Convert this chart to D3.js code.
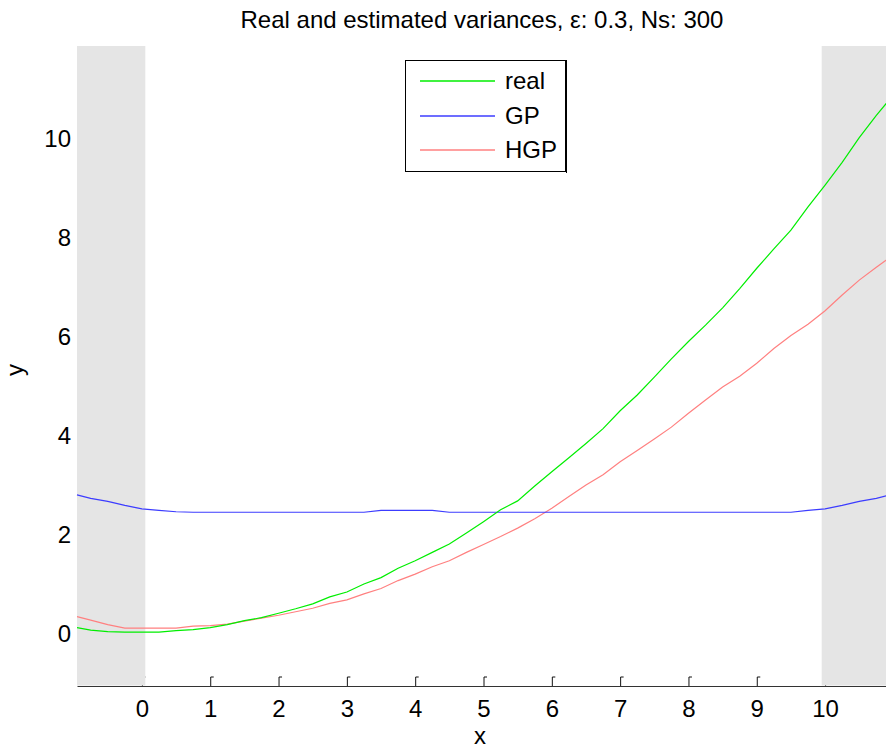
<!DOCTYPE html>
<html>
<head>
<meta charset="utf-8">
<script src="https://cdn.jsdelivr.net/npm/d3@7"></script>
<style>
  html, body { margin: 0; padding: 0; background: #fff; }
  svg { display: block; font-family: "Liberation Sans", Arial, sans-serif; }
</style>
</head>
<body>
<svg id="chart" width="886" height="750"></svg>
<script>
// ---- data ----
const xs = [-0.95, -0.75, -0.5, -0.25, 0, 0.25, 0.5, 0.75, 1, 1.25, 1.5, 1.75, 2, 2.25, 2.5, 2.75,
  3, 3.25, 3.5, 3.75, 4, 4.25, 4.5, 4.75, 5, 5.25, 5.5, 5.75, 6, 6.25, 6.5, 6.75,
  7, 7.25, 7.5, 7.75, 8, 8.25, 8.5, 8.75, 9, 9.25, 9.5, 9.75, 10, 10.25, 10.5, 10.75, 10.95];
const realVals = [0.12, 0.07, 0.04, 0.03, 0.03, 0.03, 0.06, 0.08, 0.12, 0.18, 0.26, 0.32, 0.41, 0.50, 0.60, 0.74,
  0.84, 1.00, 1.13, 1.32, 1.47, 1.64, 1.81, 2.03, 2.26, 2.50, 2.68, 2.98, 3.27, 3.55, 3.84, 4.14,
  4.50, 4.82, 5.18, 5.55, 5.90, 6.23, 6.58, 6.97, 7.38, 7.77, 8.15, 8.62, 9.06, 9.52, 10.02, 10.47, 10.80];
const gpVals = [2.80, 2.73, 2.67, 2.59, 2.52, 2.49, 2.46, 2.45, 2.45, 2.45, 2.45, 2.45, 2.45, 2.45, 2.45, 2.45,
  2.45, 2.45, 2.49, 2.49, 2.49, 2.49, 2.45, 2.45, 2.45, 2.45, 2.45, 2.45, 2.45, 2.45, 2.45, 2.45,
  2.45, 2.45, 2.45, 2.45, 2.45, 2.45, 2.45, 2.45, 2.45, 2.45, 2.45, 2.49, 2.52, 2.59, 2.67, 2.73, 2.80];
const hgpVals = [0.34, 0.27, 0.18, 0.11, 0.11, 0.11, 0.11, 0.15, 0.16, 0.19, 0.25, 0.31, 0.37, 0.44, 0.51, 0.61,
  0.68, 0.80, 0.91, 1.07, 1.20, 1.35, 1.47, 1.64, 1.80, 1.96, 2.13, 2.32, 2.53, 2.77, 3.00, 3.21,
  3.47, 3.70, 3.93, 4.17, 4.45, 4.72, 4.98, 5.20, 5.46, 5.76, 6.02, 6.25, 6.52, 6.84, 7.14, 7.40, 7.60];
const seriesNames = ["real", "GP", "HGP"];
const xTicks = [0, 1, 2, 3, 4, 5, 6, 7, 8, 9, 10];
const yTicks = [0, 2, 4, 6, 8, 10];
const xDomain = [-0.95, 10.95];
const yDomain = [-1.06, 11.87];
const bands = [[-0.95, 0.05], [9.95, 10.95]];
const titleText = "Real and estimated variances, \u03B5: 0.3, Ns: 300";

// ---- layout / style ----
const colorList = ["#00ee00", "#3c3cff", "#ff8080"];
const colors = {};
seriesNames.forEach((n, i) => { colors[n] = colorList[i]; });
const plot = { left: 77, right: 890, top: 46, bottom: 686 };
const fontSize = 24;

const svg = d3.select("#chart");
const x = d3.scaleLinear().domain(xDomain).range([plot.left, plot.right]);
const y = d3.scaleLinear().domain(yDomain).range([plot.bottom, plot.top]);

// x axis
const xAxis = svg.append("g")
  .attr("transform", `translate(0,${plot.bottom})`)
  .call(d3.axisBottom(x).tickValues(xTicks).tickFormat(d3.format("d"))
    .tickSizeInner(-9).tickSizeOuter(0).tickPadding(14));
xAxis.select(".domain").attr("stroke", "#333").attr("stroke-width", 1);
xAxis.selectAll(".tick line").attr("stroke", "#111");
xAxis.selectAll(".tick").append("line")
  .attr("x1", 0).attr("x2", 3).attr("y1", -9).attr("y2", -9)
  .attr("stroke", "#111");
xAxis.selectAll(".tick text").attr("font-size", fontSize).attr("fill", "#000")
  .attr("font-family", "Liberation Sans, Arial, sans-serif");

// grey bands (cover the ticks beneath them)
svg.append("g").selectAll("rect").data(bands).join("rect")
  .attr("x", d => x(d[0]))
  .attr("width", d => x(d[1]) - x(d[0]))
  .attr("y", plot.top)
  .attr("height", plot.bottom - 0.5 - plot.top)
  .attr("fill", "#e5e5e5");

// y axis (labels only)
const yAxis = svg.append("g")
  .attr("transform", `translate(${plot.left},0)`)
  .call(d3.axisLeft(y).tickValues(yTicks).tickFormat(d3.format("d")).tickSize(0).tickPadding(6));
yAxis.select(".domain").remove();
yAxis.selectAll(".tick text").attr("font-size", fontSize).attr("fill", "#000")
  .attr("font-family", "Liberation Sans, Arial, sans-serif");

// lines
const seriesData = { real: realVals, GP: gpVals, HGP: hgpVals };
const line = d3.line().x(d => x(d[0])).y(d => y(d[1]));
const drawOrder = ["HGP", "GP", "real"];
svg.append("g").selectAll("path").data(drawOrder).join("path")
  .attr("d", name => line(xs.map((xv, i) => [xv, seriesData[name][i]])))
  .attr("fill", "none")
  .attr("stroke", name => colors[name])
  .attr("stroke-width", 1.2);

// title and axis labels
svg.append("text").attr("x", 482).attr("y", 28).attr("text-anchor", "middle")
  .attr("font-size", fontSize).text(titleText);
svg.append("text").attr("x", 480).attr("y", 744).attr("text-anchor", "middle")
  .attr("font-size", fontSize).text("x");
svg.append("text").attr("transform", "translate(23,370) rotate(-90)").attr("text-anchor", "middle")
  .attr("font-size", fontSize).text("y");

// legend
const lg = svg.append("g");
lg.append("rect").attr("x", 405.5).attr("y", 60.5).attr("width", 160).attr("height", 111)
  .attr("fill", "#fff").attr("stroke", "#000").attr("stroke-width", 1);
lg.append("line").attr("x1", 566.5).attr("x2", 566.5).attr("y1", 60).attr("y2", 173)
  .attr("stroke", "#000").attr("stroke-width", 1);
const legendY = [81, 116, 150];
seriesNames.forEach((name, i) => {
  lg.append("path")
    .attr("d", `M420,${legendY[i]}H495`)
    .attr("fill", "none")
    .attr("stroke", colorList[i]).attr("stroke-width", 1.6);
  lg.append("text").attr("x", 505).attr("y", legendY[i]).attr("dy", "0.35em")
    .attr("font-size", fontSize).attr("fill", "#000").text(name);
});
</script>
</body>
</html>
